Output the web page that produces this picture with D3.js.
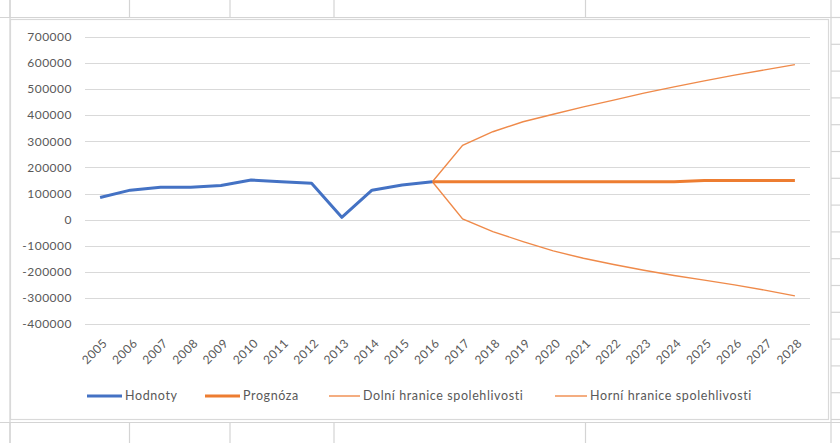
<!DOCTYPE html>
<html>
<head>
<meta charset="utf-8">
<script src="https://cdn.jsdelivr.net/npm/d3@7"></script>
<style>
  body { margin: 0; background: #fff; }
  svg text { font-family: Lato, "Open Sans", sans-serif; fill: #595959; }
</style>
</head>
<body>
<div id="chart"></div>
<script>
const years = ['2005', '2006', '2007', '2008', '2009', '2010', '2011', '2012', '2013', '2014', '2015', '2016',
  '2017', '2018', '2019', '2020', '2021', '2022', '2023', '2024', '2025', '2026', '2027', '2028'];
const yTicks = [-400000, -300000, -200000, -100000, 0, 100000, 200000, 300000, 400000, 500000, 600000, 700000];

// 2005 - 2016
const hodnoty = [85000, 113000, 124000, 124000, 131000, 152000, 145000, 139000, 9000, 113000, 133000, 145000];
// 2016 - 2028
const prognoza = [145000, 145000, 145000, 145000, 145000, 145000, 145000, 145000, 145000, 150000, 150000, 150000, 150000];
const dolni = [145000, 3000, -46000, -84000, -120000, -148000, -172000, -194000, -214000, -232000, -250000, -270000, -292000];
const horni = [145000, 285000, 337000, 375000, 404000, 432000, 458000, 485000, 509000, 532000, 554000, 574000, 594000];

const seriesNames = ['Hodnoty', 'Prognóza', 'Dolní hranice spolehlivosti', 'Horní hranice spolehlivosti'];

const width = 840, height = 443;
const svg = d3.select('#chart').append('svg')
  .attr('width', width)
  .attr('height', height);

// spreadsheet grid behind the chart
const sheet = svg.append('g').attr('stroke', '#d4d4d4').attr('stroke-width', 1.2);
[17.5, 422.5].forEach(y => sheet.append('line').attr('x1', 0).attr('x2', width).attr('y1', y).attr('y2', y));
[10, 129.5, 230, 334, 585.5].forEach(x => {
  sheet.append('line').attr('x1', x).attr('x2', x).attr('y1', 0).attr('y2', 17.5);
  sheet.append('line').attr('x1', x).attr('x2', x).attr('y1', 422.5).attr('y2', height);
});
sheet.append('line').attr('x1', 10).attr('x2', 10).attr('y1', 0).attr('y2', height);
sheet.append('line').attr('x1', 831).attr('x2', 831).attr('y1', 0).attr('y2', height);
d3.range(17.5, 423, 26.8).forEach(y =>
  sheet.append('line').attr('x1', 831).attr('x2', width).attr('y1', y).attr('y2', y));

// chart area
svg.append('rect')
  .attr('x', 10.5).attr('y', 19.5)
  .attr('width', 818).attr('height', 400)
  .attr('fill', '#fff')
  .attr('stroke', '#d9d9d9')
  .attr('stroke-width', 1.2);

const x = d3.scaleBand().domain(years).range([85, 810]);
const y = d3.scaleLinear().domain([-400000, 700000]).range([324, 37]);
const cx = d => x(d) + x.bandwidth() / 2;

// gridlines
svg.append('g')
  .selectAll('line')
  .data(yTicks)
  .enter()
  .append('line')
  .attr('x1', 85).attr('x2', 810)
  .attr('y1', d => Math.round(y(d)) + 0.5)
  .attr('y2', d => Math.round(y(d)) + 0.5)
  .attr('stroke', '#d9d9d9')
  .attr('stroke-width', 1);

// y labels
svg.append('g')
  .selectAll('text')
  .data(yTicks)
  .enter()
  .append('text')
  .attr('x', 72)
  .attr('y', d => y(d))
  .attr('dy', '0.35em')
  .attr('text-anchor', 'end')
  .style('font-size', '12px')
  .style('letter-spacing', '0.5px')
  .text(d => d);

// x labels
svg.append('g')
  .selectAll('text')
  .data(years)
  .enter()
  .append('text')
  .attr('transform', d => `translate(${cx(d) + 5},${341}) rotate(-45)`)
  .attr('dy', '0.35em')
  .attr('text-anchor', 'end')
  .style('font-size', '12px')
  .style('letter-spacing', '0.5px')
  .text(d => d);

const line = d3.line()
  .x(d => cx(d.year))
  .y(d => y(d.value));

const histYears = years.slice(0, hodnoty.length);
const fcYears = years.slice(hodnoty.length - 1);
const toPoints = (yrs, vals) => vals.map((v, i) => ({ year: yrs[i], value: v }));

svg.append('path')
  .attr('d', line(toPoints(fcYears, dolni)))
  .attr('fill', 'none').attr('stroke', '#ef8a4a').attr('stroke-width', 1.4);
svg.append('path')
  .attr('d', line(toPoints(fcYears, horni)))
  .attr('fill', 'none').attr('stroke', '#ef8a4a').attr('stroke-width', 1.4);
svg.append('path')
  .attr('d', line(toPoints(fcYears, prognoza)))
  .attr('fill', 'none').attr('stroke', '#ed7d31').attr('stroke-width', 3);
svg.append('path')
  .attr('d', line(toPoints(histYears, hodnoty)))
  .attr('fill', 'none').attr('stroke', '#4472c4').attr('stroke-width', 3)
  .attr('stroke-linejoin', 'round');

// legend
const legend = [
  { name: seriesNames[0], color: '#4472c4', w: 3, x1: 87, x2: 122 },
  { name: seriesNames[1], color: '#ed7d31', w: 3, x1: 205, x2: 240 },
  { name: seriesNames[2], color: '#ef8a4a', w: 1.4, x1: 329, x2: 360 },
  { name: seriesNames[3], color: '#ef8a4a', w: 1.4, x1: 555, x2: 587 }
];
const lg = svg.append('g').selectAll('g')
  .data(legend)
  .enter()
  .append('g');
lg.append('line')
  .attr('x1', d => d.x1).attr('x2', d => d.x2)
  .attr('y1', 396).attr('y2', 396)
  .attr('stroke', d => d.color)
  .attr('stroke-width', d => d.w);
lg.append('text')
  .attr('x', d => d.x2 + 3)
  .attr('y', 396)
  .attr('dy', '0.35em')
  .style('font-size', '12.5px')
  .style('letter-spacing', '0.6px')
  .text(d => d.name);
</script>
</body>
</html>
